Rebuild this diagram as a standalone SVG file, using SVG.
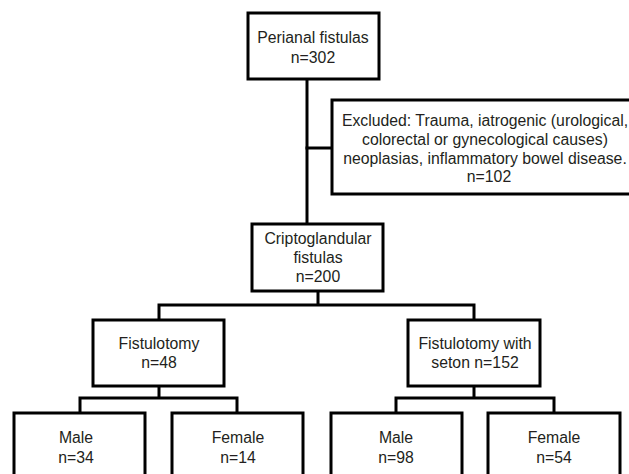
<svg xmlns="http://www.w3.org/2000/svg" width="629" height="474" viewBox="0 0 629 474">
<style>
.box{fill:#fff;stroke:#000;stroke-width:3}
.ln{fill:none;stroke:#000;stroke-width:3;stroke-linecap:square}
text{font-family:"Liberation Sans",Arial,sans-serif;font-size:15.8px;fill:#231f20;text-anchor:middle}
</style>
<rect width="629" height="474" fill="#fff"/>
<g id="connectors">
<path class="ln" d="M307 79V224"/>
<path class="ln" d="M307 148H332"/>
<path class="ln" d="M318 291V305M159 305H474M159 305V320M474 305V320"/>
<path class="ln" d="M159 386V398M80 398H237M80 398V413M237 398V413"/>
<path class="ln" d="M474 386V398M396 398H554M396 398V413M554 398V413"/>
</g>
<g id="perianal">
<rect class="box" x="248" y="13" width="131" height="66"/>
<text x="313" y="43">Perianal fistulas</text>
<text x="313" y="63">n=302</text>
</g>
<g id="excluded">
<rect class="box" x="332" y="100" width="310" height="94"/>
<text x="485" y="126">Excluded: Trauma, iatrogenic (urological,</text>
<text x="485" y="145">colorectal or gynecological causes)</text>
<text x="485" y="164">neoplasias, inflammatory bowel disease.</text>
<text x="489" y="182">n=102</text>
</g>
<g id="criptoglandular">
<rect class="box" x="252" y="224" width="131" height="67"/>
<text x="318" y="244">Criptoglandular</text>
<text x="318" y="263">fistulas</text>
<text x="318" y="282">n=200</text>
</g>
<g id="fistulotomy">
<rect class="box" x="93" y="320" width="131" height="66"/>
<text x="159" y="349">Fistulotomy</text>
<text x="159" y="368">n=48</text>
</g>
<g id="seton">
<rect class="box" x="408" y="320" width="132" height="66"/>
<text x="475" y="349">Fistulotomy with</text>
<text x="475" y="368">seton n=152</text>
</g>
<g id="male1">
<rect class="box" x="14" y="413" width="131" height="70"/>
<text x="76" y="443">Male</text>
<text x="76" y="463">n=34</text>
</g>
<g id="female1">
<rect class="box" x="172" y="413" width="131" height="70"/>
<text x="238" y="443">Female</text>
<text x="238" y="463">n=14</text>
</g>
<g id="male2">
<rect class="box" x="331" y="413" width="131" height="70"/>
<text x="396" y="443">Male</text>
<text x="396" y="463">n=98</text>
</g>
<g id="female2">
<rect class="box" x="488" y="413" width="132" height="70"/>
<text x="554" y="443">Female</text>
<text x="554" y="463">n=54</text>
</g>
</svg>
